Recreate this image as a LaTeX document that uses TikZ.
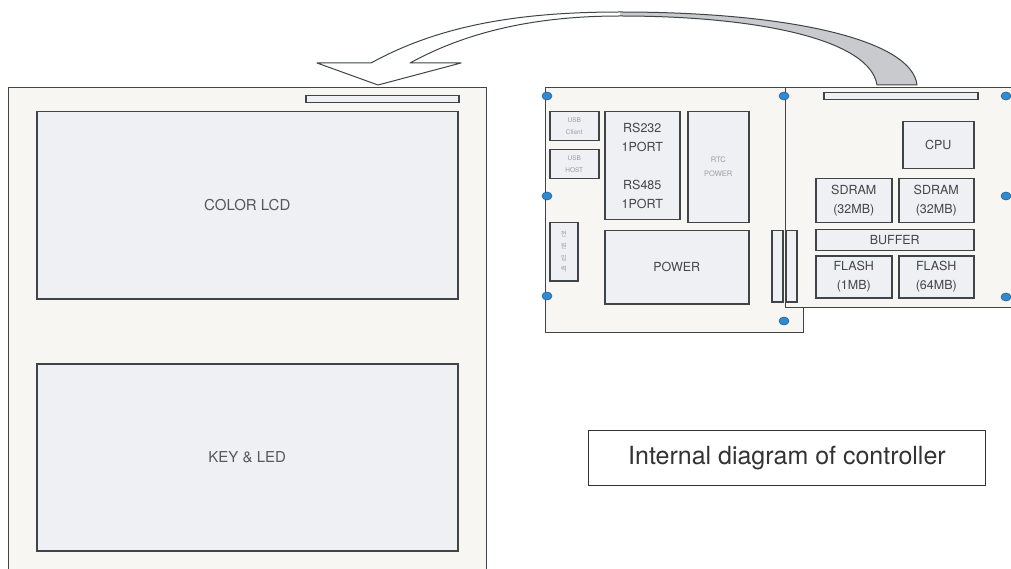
\documentclass[tikz,border=0pt]{standalone}
\usepackage{fontspec}
\setmainfont{TeX Gyre Heros}
\newfontfamily\krfont{Noto Sans CJK KR}
\usetikzlibrary{shapes.geometric}
\definecolor{panel}{HTML}{F8F6F3}
\definecolor{chip}{HTML}{EEF0F3}
\definecolor{edge}{HTML}{3F4448}
\definecolor{txt}{HTML}{454545}
\definecolor{faint}{HTML}{9C9C9C}
\definecolor{dotfill}{HTML}{2F8AD0}
\definecolor{dotedge}{HTML}{1E5F94}
\definecolor{band}{HTML}{C8CACE}
\definecolor{captxt}{HTML}{333333}
\tikzset{
  sz/.style 2 args={minimum width=#1pt, minimum height=#2pt},
  panelbox/.style={draw=edge, fill=panel, line width=1.1pt, inner sep=0pt, anchor=north west},
  chipbox/.style={draw=edge, fill=chip, line width=1.5pt, inner sep=0pt, anchor=north west,
    text=txt, align=center, font=\fontsize{12.5}{19}\selectfont},
  bigbox/.style={chipbox, font=\fontsize{15}{18}\selectfont, text=txt!90},
  tinybox/.style={chipbox, text=faint, font=\fontsize{6.5}{12}\selectfont},
  smallbox/.style={chipbox, text=faint, font=\fontsize{7.5}{14}\selectfont},
  hole/.style={ellipse, draw=dotedge, fill=dotfill, line width=0.6pt, inner sep=0pt,
    minimum width=10pt, minimum height=8pt},
  arrowline/.style={draw=edge, line width=1pt, line join=round},
  captionbox/.style={draw=captxt, line width=0.9pt, inner sep=0pt, anchor=north west,
    text=captxt, font=\fontsize{25}{30}\selectfont}
}
\begin{document}
\begin{tikzpicture}[x=1pt, y=-1pt]
\useasboundingbox (0,0) rectangle (1011,569);
\clip (0,0) rectangle (1011,569);
\fill[white] (0,0) rectangle (1011,569);

% ---------- left panel ----------
\node[panelbox, sz={478}{520}] (lpanel) at (8,87) {};
\node[chipbox, sz={153}{7}] (lbar) at (305,95) {};
\node[bigbox, sz={421}{187}] (lcd) at (36,111) {COLOR LCD};
\node[bigbox, sz={421}{187}] (keyled) at (36,363) {KEY \& LED};

% ---------- board 1 ----------
\node[panelbox, sz={258}{245}] (board1) at (545,87) {};
\node[tinybox, sz={49}{29}] (usbc) at (549,111) {USB\\Client};
\node[tinybox, sz={49}{29}] (usbh) at (549,149) {USB\\HOST};
\node[chipbox, sz={75}{108}] (rs) at (604,111) {RS232\\1PORT\\[19pt]RS485\\1PORT};
\node[smallbox, sz={61}{111}] (rtc) at (687,111) {RTC\\POWER};
\node[tinybox, sz={28}{58}, font=\krfont\fontsize{6.5}{11.7}\selectfont] (pwrin) at (549,222) {전\\원\\입\\력};
\node[chipbox, sz={144}{73}] (power) at (604,230) {POWER};

% ---------- board 2 ----------
\node[panelbox, sz={245}{220}] (board2) at (785,87) {};
\node[chipbox, sz={154}{7}] (rbar) at (823,92) {};
\node[chipbox, sz={71}{47}] (cpu) at (902,121) {CPU};
\node[chipbox, sz={76}{44}] (sdram1) at (815,178) {SDRAM\\(32MB)};
\node[chipbox, sz={75}{44}] (sdram2) at (898,178) {SDRAM\\(32MB)};
\node[chipbox, sz={158}{21}] (buffer) at (815,229) {BUFFER};
\node[chipbox, sz={76}{42}] (flash1) at (815,255) {FLASH\\(1MB)};
\node[chipbox, sz={75}{42}] (flash2) at (898,255) {FLASH\\(64MB)};

% connectors between boards
\node[chipbox, sz={11}{71}] (conn1) at (771,230) {};
\node[chipbox, sz={11}{71}] (conn2) at (785,230) {};

% mounting holes
\node[hole] (h1) at (547,96) {};
\node[hole] (h2) at (547,196) {};
\node[hole] (h3) at (547,296) {};
\node[hole] (h4) at (784,96) {};
\node[hole] (h5) at (784,321) {};
\node[hole] (h6) at (1006,96) {};
\node[hole] (h7) at (1006,196) {};
\node[hole] (h8) at (1006,297) {};

% ---------- curved block arrow ----------
\fill[white]
  (317,63) -- (378,85) -- (461,63) -- (410,63)
  .. controls (470,30) and (540,16) .. (620,16) -- (620,12)
  .. controls (520,12) and (440,25) .. (371,63) -- cycle;
\fill[band]
  (620,12) .. controls (790,12) and (912,40) .. (917,85) -- (877,85)
  .. controls (870,40) and (760,16) .. (620,16) -- cycle;
\draw[arrowline]
  (877,85) .. controls (870,40) and (760,16) .. (620,16)
  .. controls (540,16) and (470,30) .. (410,63)
  -- (461,63) -- (378,85) -- (317,63) -- (371,63)
  .. controls (440,25) and (520,12) .. (620,12)
  .. controls (790,12) and (912,40) .. (917,85) -- cycle;

% ---------- caption ----------
\node[captionbox, sz={397}{55}] (caption) at (588,430) {Internal diagram of controller};
\end{tikzpicture}
\end{document}
